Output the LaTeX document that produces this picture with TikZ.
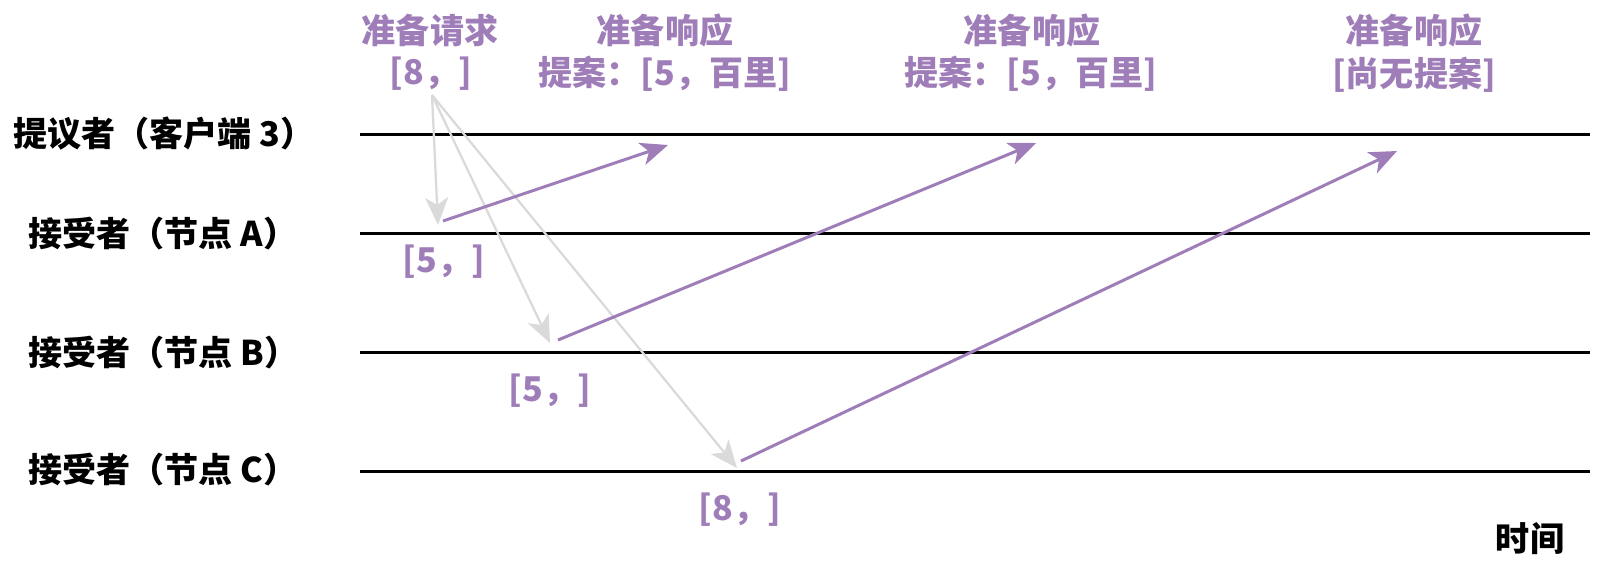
\documentclass[tikz,border=0pt]{standalone}
\usepackage{fontspec}
\setmainfont{Noto Sans CJK SC}
\usepackage{tikz}
\usetikzlibrary{arrows.meta}

\definecolor{paxos}{RGB}{158,125,184}
\definecolor{reqgray}{RGB}{218,218,218}

\tikzset{
  lane/.style={line width=1.7pt, black},
  who/.style={inner sep=0pt, anchor=west},
  lbl/.style={inner sep=0pt, text=paxos},
  reqarrow/.style={-{Stealth[length=0.55cm, width=0.46cm, inset=0.15cm]}, line width=1.3pt, reqgray},
  resparrow/.style={-{Stealth[length=0.55cm, width=0.46cm, inset=0.15cm]}, line width=1.7pt, paxos}
}

\begin{document}
\begin{tikzpicture}[x=0.02cm, y=-0.02cm, font=\fontsize{19.4}{23}\selectfont\bfseries]
\useasboundingbox (0,0) rectangle (1600,576);

% roles on the left
\node[who] (prop) at (13,134) {提议者（客户端 3）};
\node[who] (accA) at (28,234) {接受者（节点 A）};
\node[who] (accB) at (28,353) {接受者（节点 B）};
\node[who] (accC) at (28,470) {接受者（节点 C）};

% time lines
\draw[lane] (360,134) -- (1590,134);
\draw[lane] (360,233) -- (1590,233);
\draw[lane] (360,352) -- (1590,352);
\draw[lane] (360,471) -- (1590,471);

\node[inner sep=0pt] (time) at (1530,539) {时间};

% prepare request
\node[lbl] (reqname) at (430,30) {准备请求};
\node[lbl] (reqval) at (431,74) {[8，]};

\coordinate (req) at (432,95);
\coordinate (atA) at (438,225);
\coordinate (atB) at (550,343);
\coordinate (atC) at (737,468);

\draw[reqarrow] (req) -- (atA);
\draw[reqarrow] (req) -- (atB);
\draw[reqarrow] (req) -- (atC);

% state of each acceptor
\node[lbl] (valA) at (444,262) {[5，]};
\node[lbl] (valB) at (550,391) {[5，]};
\node[lbl] (valC) at (740,510) {[8，]};

% prepare responses
\coordinate (fromA) at (443,221);
\coordinate (fromB) at (558,340);
\coordinate (fromC) at (741,461);
\coordinate (toA) at (668,145);
\coordinate (toB) at (1036,143);
\coordinate (toC) at (1397,151);

\draw[resparrow] (fromA) -- (toA);
\draw[resparrow] (fromB) -- (toB);
\draw[resparrow] (fromC) -- (toC);

\node[lbl] (respA) at (665,30) {准备响应};
\node[lbl] (propA) at (665,74) {提案：[5，百里]};
\node[lbl] (respB) at (1032,30) {准备响应};
\node[lbl] (propB) at (1031,74) {提案：[5，百里]};
\node[lbl] (respC) at (1414,30) {准备响应};
\node[lbl] (propC) at (1414,75) {[尚无提案]};

\end{tikzpicture}
\end{document}
